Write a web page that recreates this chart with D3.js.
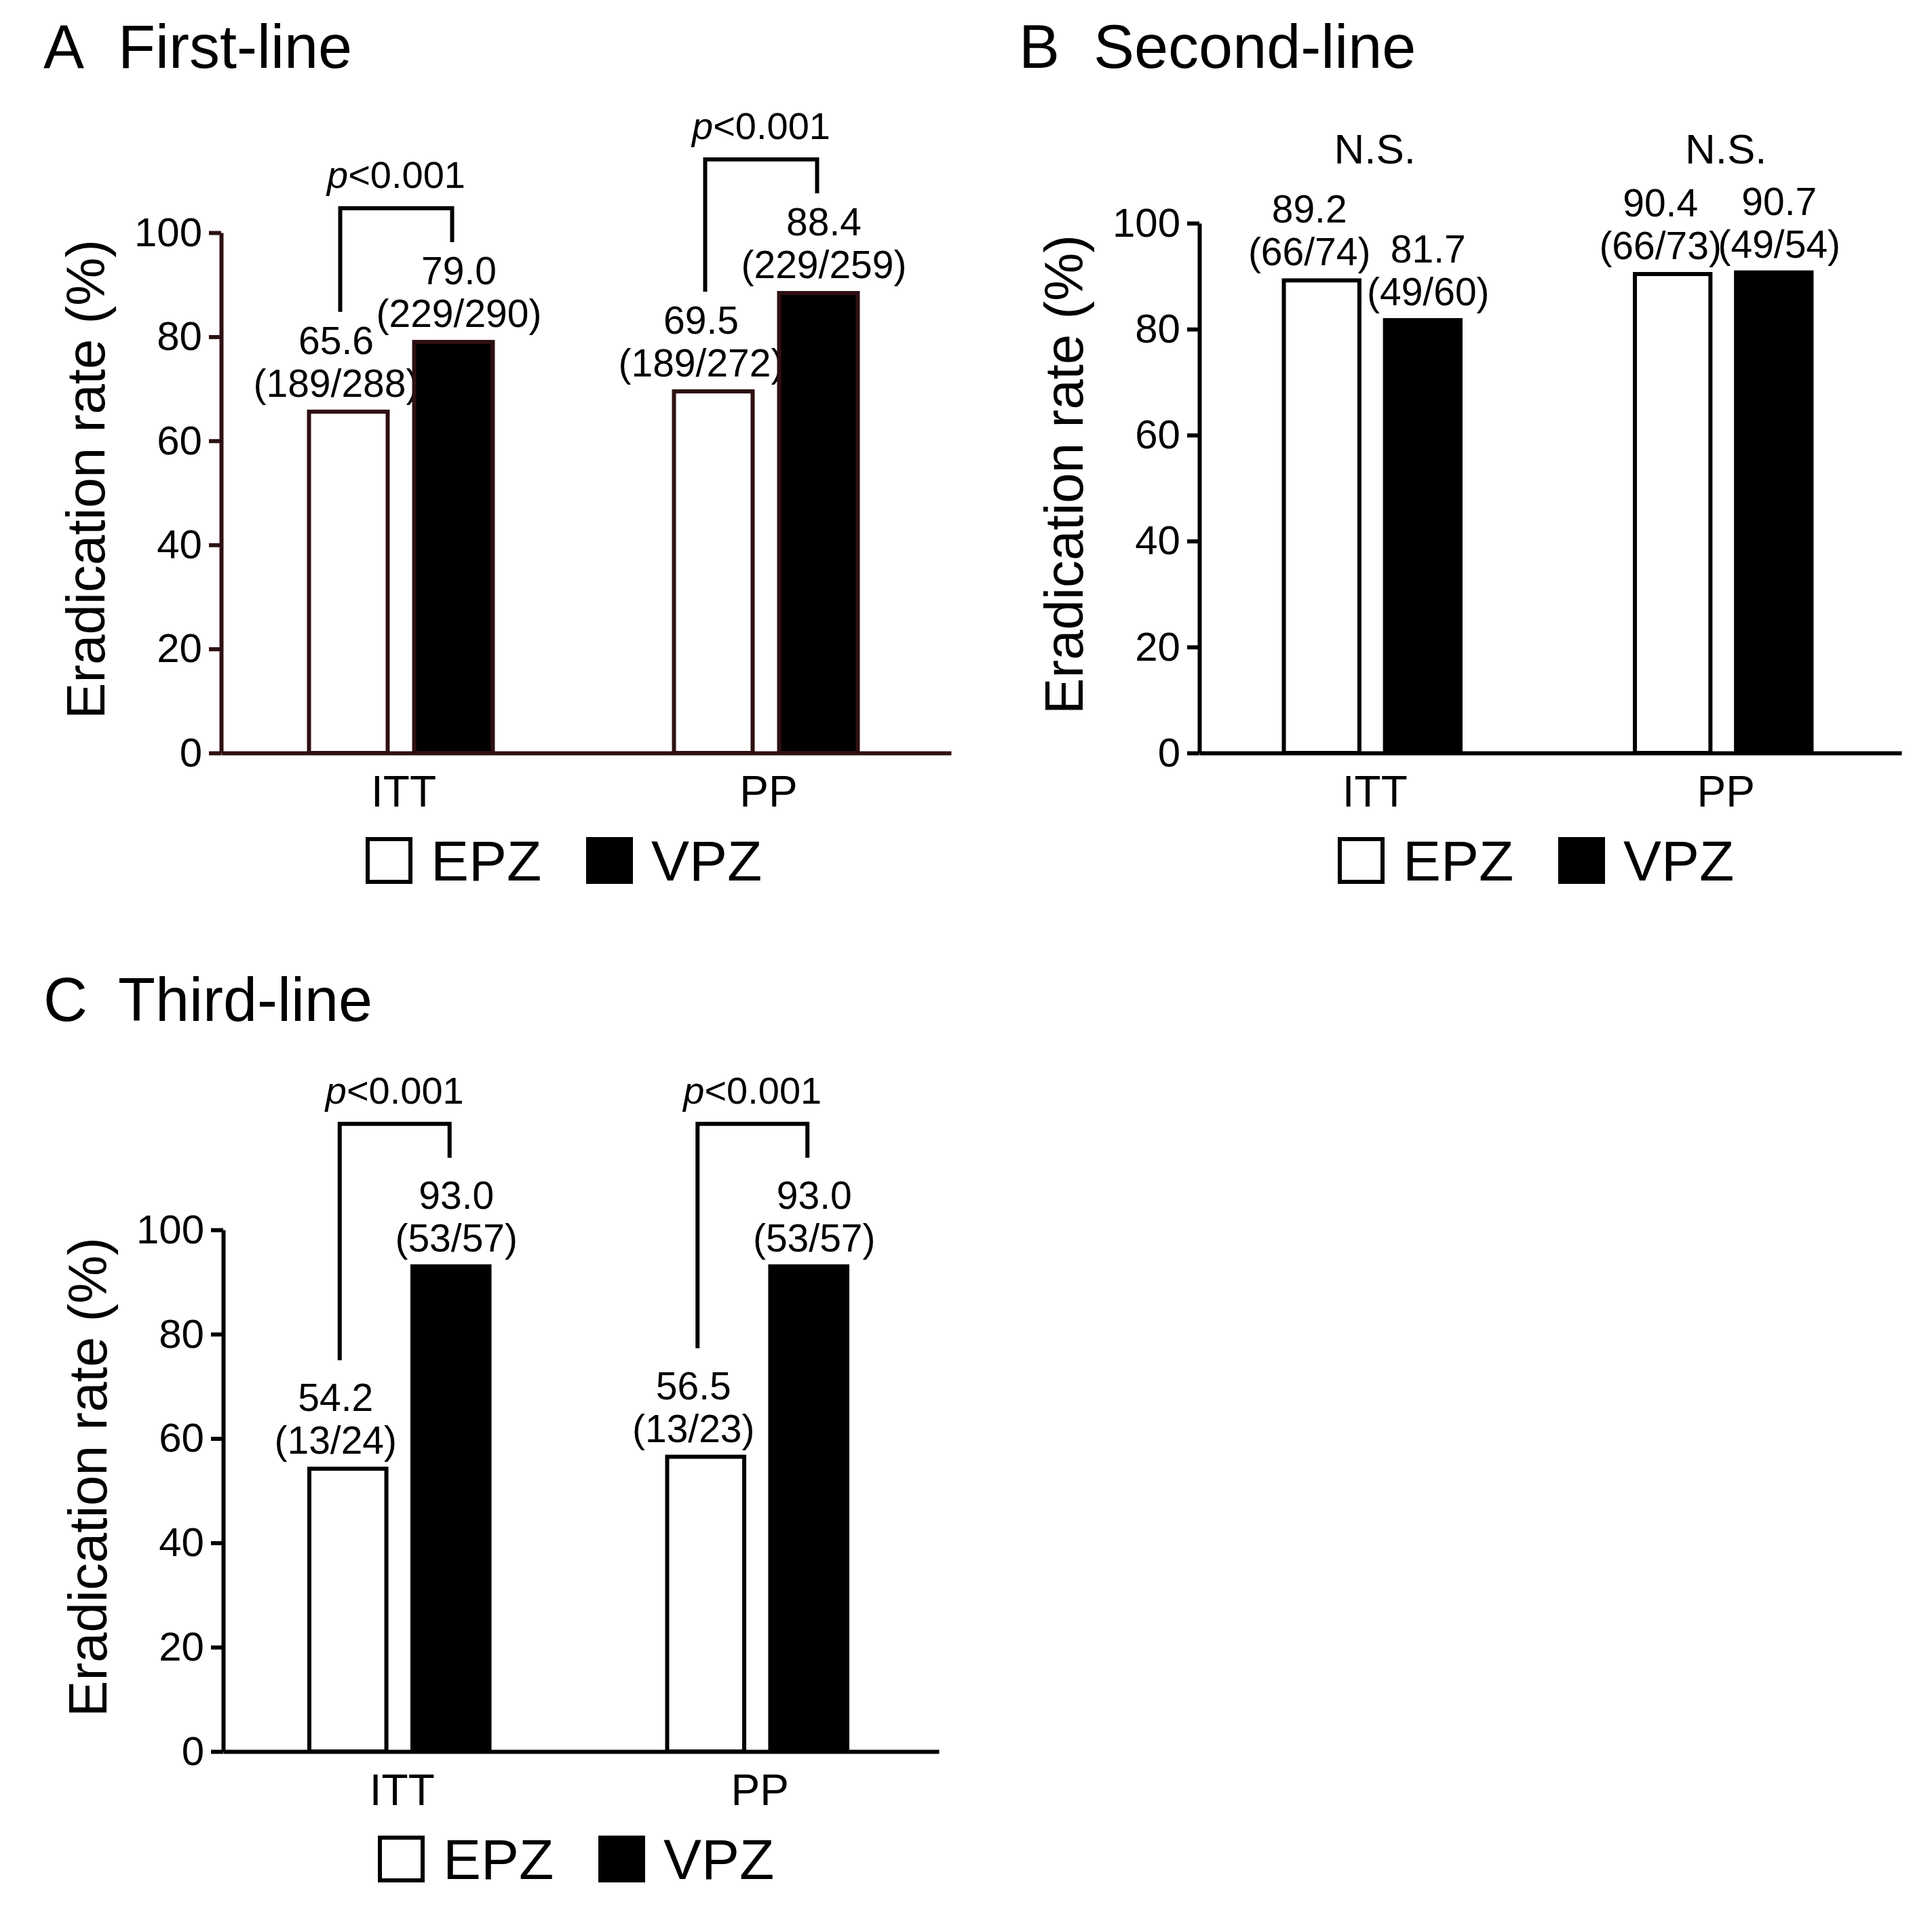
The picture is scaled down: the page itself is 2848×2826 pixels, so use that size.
<!DOCTYPE html>
<html>
<head>
<meta charset="utf-8">
<script src="https://cdn.jsdelivr.net/npm/d3@7"></script>
<style>
body{margin:0;background:#fff;}
text{font-family:"Liberation Sans",Arial,sans-serif;}
</style>
</head>
<body>
<svg id="fig" width="2848" height="2826"></svg>
<script>
///--------------------Data
var categories = ["ITT","PP"],
	series = ["EPZ","VPZ"],
	yTicks = [0,20,40,60,80,100],
	panelLetters = ["A","B","C"],
	panelNames = ["First-line","Second-line","Third-line"],
	yLabel = "Eradication rate (%)",
	// rates per category : [EPZ, VPZ]
	firstRates = [[65.6,79.0],[69.5,88.4]],
	firstCounts = [["189/288","229/290"],["189/272","229/259"]],
	firstSig = ["<0.001","<0.001"],
	secondRates = [[89.2,81.7],[90.4,90.7]],
	secondCounts = [["66/74","49/60"],["66/73","49/54"]],
	secondSig = ["N.S.","N.S."],
	thirdRates = [[54.2,93.0],[56.5,93.0]],
	thirdCounts = [["13/24","53/57"],["13/23","53/57"]],
	thirdSig = ["<0.001","<0.001"];

///--------------------Layout
var panels = [
	{left:326,top:343,width:1076,bottom:1110,ink:"#2e1013",rates:firstRates,counts:firstCounts,sig:firstSig,bracket:true,legGap:147,
	 titleX:64,titleY:100,legendX:539},
	{left:1768,top:329,width:1035,bottom:1110,ink:"#000",rates:secondRates,counts:secondCounts,sig:secondSig,bracket:false,legGap:0,
	 titleX:1502,titleY:100,legendX:1972},
	{left:329,top:1813,width:1055,bottom:2582,ink:"#000",rates:thirdRates,counts:thirdCounts,sig:thirdSig,bracket:true,legGap:160,
	 titleX:64,titleY:1505,legendX:557}
];

var svg = d3.select("#fig");
svg.append("rect").attr("width",2848).attr("height",2826).attr("fill","#fff");

panels.forEach(function(p,k){ draw_panel(p,k); });

function draw_panel(p,k){
	var h = p.bottom-p.top;
	var g = svg.append("g").attr("transform","translate("+p.left+","+p.top+")");

	var x0 = d3.scaleBand().domain(categories).range([0,p.width]);
	var half = x0.bandwidth()*0.2574, mid = x0.bandwidth()/2-4;
	var x1 = d3.scaleBand().domain(series)
		.range([mid-half, mid+half])
		.paddingInner(0.213);
	var y = d3.scaleLinear().domain([0,100]).range([h,0]);

	// titre
	svg.append("text").attr("x",p.titleX).attr("y",p.titleY)
		.attr("font-size",90).text(panelLetters[k]);
	svg.append("text").attr("x",p.titleX+110).attr("y",p.titleY)
		.attr("font-size",90).text(panelNames[k]);

	// axe y
	var ay = g.append("g").call(d3.axisLeft(y).tickValues(yTicks).tickSize(18).tickSizeOuter(0).tickPadding(10));
	ay.select(".domain").attr("stroke",p.ink).attr("stroke-width",6);
	ay.selectAll(".tick line").attr("stroke",p.ink).attr("stroke-width",6);
	ay.selectAll(".tick text").attr("font-size",60).attr("fill","#000")
		.attr("font-family","Liberation Sans, Arial, sans-serif");

	// axe x
	var ax = g.append("g").attr("transform","translate(0,"+h+")")
		.call(d3.axisBottom(x0).tickSize(0).tickSizeOuter(0).tickPadding(34));
	ax.select(".domain").attr("stroke",p.ink).attr("stroke-width",6);
	ax.selectAll(".tick text").attr("font-size",64).attr("fill","#000")
		.attr("font-family","Liberation Sans, Arial, sans-serif");

	// titre y
	g.append("text")
		.attr("transform","translate(-172,"+(h/2-20)+") rotate(-90)")
		.attr("text-anchor","middle").attr("font-size",80).text(yLabel);

	// barres
	categories.forEach(function(c,i){
		var gc = g.append("g").attr("transform","translate("+x0(c)+",0)");
		series.forEach(function(s,j){
			var v = p.rates[i][j];
			gc.append("rect")
				.attr("x",x1(s)+3).attr("y",y(v))
				.attr("width",x1.bandwidth()-6).attr("height",h-y(v))
				.attr("fill",j==0?"#fff":"#000")
				.attr("stroke",p.ink).attr("stroke-width",6);
			var cx = x1(s)+x1.bandwidth()/2+(j==0?-18:8);
			var lab = gc.append("text").attr("text-anchor","middle").attr("font-size",57);
			lab.append("tspan").attr("x",cx).attr("y",y(v)-85).text(v.toFixed(1));
			lab.append("tspan").attr("x",cx).attr("y",y(v)-22).text("("+p.counts[i][j]+")");
		});

		if(p.bracket){
			var xl = x1("EPZ")+x1.bandwidth()/2-12,
				xr = x1("VPZ")+x1.bandwidth()/2-2,
				yl = y(p.rates[i][0])-p.legGap,
				yr = y(p.rates[i][1])-p.legGap,
				yt = Math.min(yl,yr)-50;
			gc.append("path")
				.attr("d","M"+xl+","+yl+"V"+yt+"H"+xr+"V"+yr)
				.attr("fill","none").attr("stroke","#000").attr("stroke-width",6);
			var pt = gc.append("text").attr("x",(xl+xr)/2).attr("y",yt-30)
				.attr("text-anchor","middle").attr("font-size",56);
			pt.append("tspan").attr("font-style","italic").text("p");
			pt.append("tspan").text(p.sig[i]);
		} else {
			gc.append("text").attr("x",x0.bandwidth()/2).attr("y",-88)
				.attr("text-anchor","middle").attr("font-size",62).text(p.sig[i]);
		}
	});

	// legende
	var lg = svg.append("g").attr("transform","translate("+p.legendX+","+(p.bottom+124)+")");
	series.forEach(function(s,j){
		var lx = j*325;
		lg.append("rect").attr("x",lx+3).attr("y",3).attr("width",63).attr("height",63)
			.attr("fill",j==0?"#fff":"#000").attr("stroke","#000").attr("stroke-width",6);
		lg.append("text").attr("x",lx+96).attr("y",64).attr("font-size",84).text(s);
	});
}
</script>
</body>
</html>
